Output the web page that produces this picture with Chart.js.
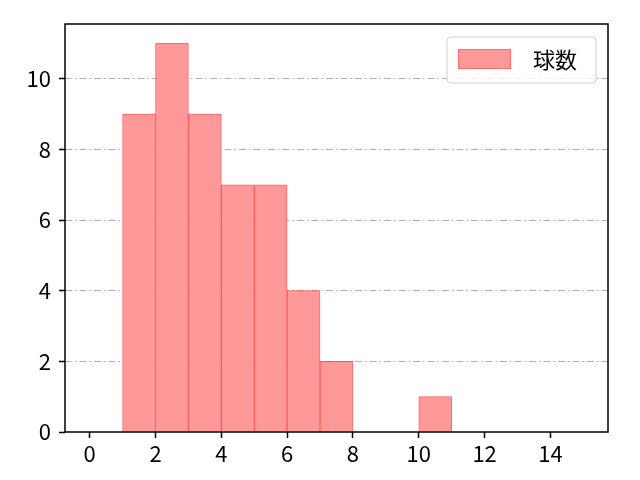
<!DOCTYPE html>
<html>
<head>
<meta charset="utf-8">
<script src="https://cdn.jsdelivr.net/npm/chart.js@4.4.0/dist/chart.umd.min.js"></script>
<style>
html,body{margin:0;padding:0;background:#fff;}
#wrap{width:640px;height:480px;}
</style>
</head>
<body>
<div id="wrap"><canvas id="c" width="640" height="480"></canvas></div>
<script>
const seriesLabel = "球数";
const binStarts = [0,1,2,3,4,5,6,7,8,9,10,11,12,13,14];
const counts    = [0,9,11,9,7,7,4,2,0,0,1,0,0,0,0];
const xTicks = [0,2,4,6,8,10,12,14];
const yTicks = [0,2,4,6,8,10];

const FONT = "'Noto Sans CJK JP', 'DejaVu Sans', sans-serif";
const FILL = "rgba(255,153,153,1)";
const EDGE = "rgba(255,50,50,0.75)";

const framePlugin = {
  id: 'frame',
  afterDraw(chart) {
    const {ctx, chartArea: a} = chart;
    ctx.save();
    ctx.strokeStyle = '#000';
    ctx.lineWidth = 1.5;
    ctx.strokeRect(a.left, a.top, a.right - a.left, a.bottom - a.top);
    const w = 149, h = 46;
    const x = a.right - 12 - w, y = a.top + 13;
    ctx.fillStyle = 'rgba(255,255,255,0.8)';
    ctx.strokeStyle = '#d0d0d0';
    ctx.lineWidth = 1;
    const r = 4;
    ctx.beginPath();
    ctx.moveTo(x + r, y);
    ctx.arcTo(x + w, y, x + w, y + h, r);
    ctx.arcTo(x + w, y + h, x, y + h, r);
    ctx.arcTo(x, y + h, x, y, r);
    ctx.arcTo(x, y, x + w, y, r);
    ctx.closePath();
    ctx.fill();
    ctx.stroke();
    ctx.fillStyle = FILL;
    ctx.fillRect(x + 11, y + 12, 53, 20);
    ctx.strokeStyle = 'rgba(255,60,60,0.5)';
    ctx.strokeRect(x + 11.5, y + 12.5, 52, 19);
    ctx.fillStyle = '#000';
    ctx.font = "22px " + FONT;
    ctx.textBaseline = 'middle';
    ctx.fillText(chart.data.datasets[0].label, x + 86, y + 23);
    ctx.restore();
  }
};

new Chart(document.getElementById('c'), {
  type: 'bar',
  data: {
    datasets: [{
      label: seriesLabel,
      data: binStarts.map((b, i) => ({x: b + 0.5, y: counts[i]})),
      backgroundColor: FILL,
      borderColor: EDGE,
      borderWidth: 1,
      borderSkipped: 'start',
      barPercentage: 1,
      categoryPercentage: 1
    }]
  },
  options: {
    responsive: false,
    animation: false,
    devicePixelRatio: 1,
    layout: {padding: {left: 0, right: 32, top: 24, bottom: 0}},
    plugins: {legend: {display: false}, tooltip: {enabled: false}},
    scales: {
      x: {
        type: 'linear',
        offset: false,
        min: -0.75, max: 15.75,
        afterBuildTicks(s) { s.ticks = xTicks.map(v => ({value: v})); },
        afterFit(s) { s.height = 48; },
        border: {display: false},
        grid: {offset: false, drawOnChartArea: false, drawTicks: true, tickLength: 6, tickColor: '#000', tickWidth: 1.5},
        ticks: {font: {family: FONT, size: 22}, color: '#000', padding: 2, maxRotation: 0, autoSkip: false}
      },
      y: {
        z: 1,
        min: 0, max: 11.55,
        afterBuildTicks(s) { s.ticks = yTicks.map(v => ({value: v})); },
        afterFit(s) { s.width = 65; },
        border: {display: false, dash: [7, 3, 1.5, 3]},
        grid: {
          color: (c) => c.tick && c.tick.value === 0 ? 'rgba(0,0,0,0)' : '#b0b0b0',
          lineWidth: 1,
          drawTicks: true, tickLength: 6, tickColor: '#000', tickWidth: 1.5, tickBorderDash: []
        },
        ticks: {font: {family: FONT, size: 22}, color: '#000', padding: 8}
      }
    }
  },
  plugins: [framePlugin]
});
</script>
</body>
</html>
